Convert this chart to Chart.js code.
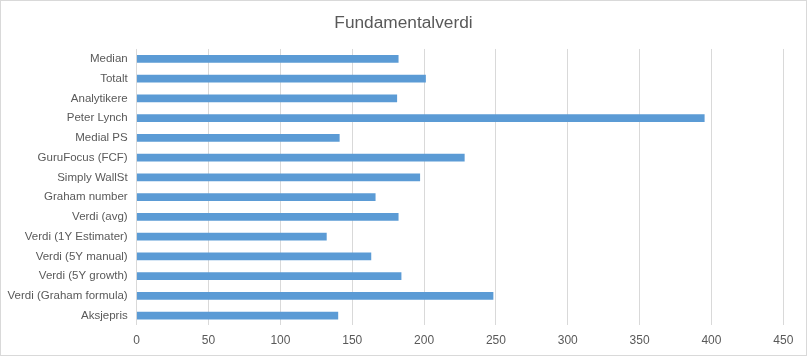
<!DOCTYPE html>
<html>
<head>
<meta charset="utf-8">
<script src="https://cdn.jsdelivr.net/npm/chart.js@4/dist/chart.umd.min.js"></script>
<style>
html,body{margin:0;padding:0;background:#fff;}
#wrap{width:807px;height:356px;box-sizing:border-box;border:1px solid #d9d9d9;position:relative;}
canvas{display:block;}
</style>
</head>
<body>
<div id="wrap"><canvas id="c" width="805" height="354"></canvas></div>
<script>
const titleText = "Fundamentalverdi";
const categories = ["Median","Totalt","Analytikere","Peter Lynch","Medial PS","GuruFocus (FCF)","Simply WallSt","Graham number","Verdi (avg)","Verdi (1Y Estimater)","Verdi (5Y manual)","Verdi (5Y growth)","Verdi (Graham formula)","Aksjepris"];
const values = [182, 201, 181, 395, 141, 228, 197, 166, 182, 132, 163, 184, 248, 140];
const xTicks = [0,50,100,150,200,250,300,350,400,450];

const FONT = "'Liberation Sans', Arial, sans-serif";
new Chart(document.getElementById('c'), {
  type: 'bar',
  data: {
    labels: categories,
    datasets: [{
      data: values,
      backgroundColor: '#5b9bd5',
      borderWidth: 0,
      barThickness: 7
    }]
  },
  options: {
    indexAxis: 'y',
    responsive: false,
    animation: false,
    devicePixelRatio: 1,
    layout: { padding: { left: 0, right: 0, top: 0, bottom: 0 } },
    plugins: {
      legend: { display: false },
      tooltip: { enabled: false },
      title: {
        display: true,
        text: titleText,
        color: '#595959',
        font: { family: FONT, size: 17.3, weight: 'normal' },
        padding: { top: 12, bottom: 15.2 }
      }
    },
    scales: {
      x: {
        min: 0, max: 450,
        afterBuildTicks: (s) => { s.ticks = xTicks.map(v => ({ value: v })); },
        afterFit: (s) => { s.height = 29.5; },
        grid: { color: '#d9d9d9', drawTicks: false, lineWidth: 1 },
        border: { display: false },
        ticks: { color: '#595959', font: { family: FONT, size: 12 }, padding: 8 }
      },
      y: {
        afterFit: (s) => { s.width = 135.7; },
        grid: { display: false, drawTicks: false },
        border: { display: false },
        ticks: { color: '#595959', font: { family: FONT, size: 11.5 }, padding: 9, autoSkip: false }
      },
      yRight: {
        type: 'category',
        position: 'right',
        afterFit: (s) => { s.width = 22.7; },
        grid: { display: false, drawTicks: false },
        border: { display: false },
        ticks: { display: false }
      }
    }
  }
});
</script>
</body>
</html>
